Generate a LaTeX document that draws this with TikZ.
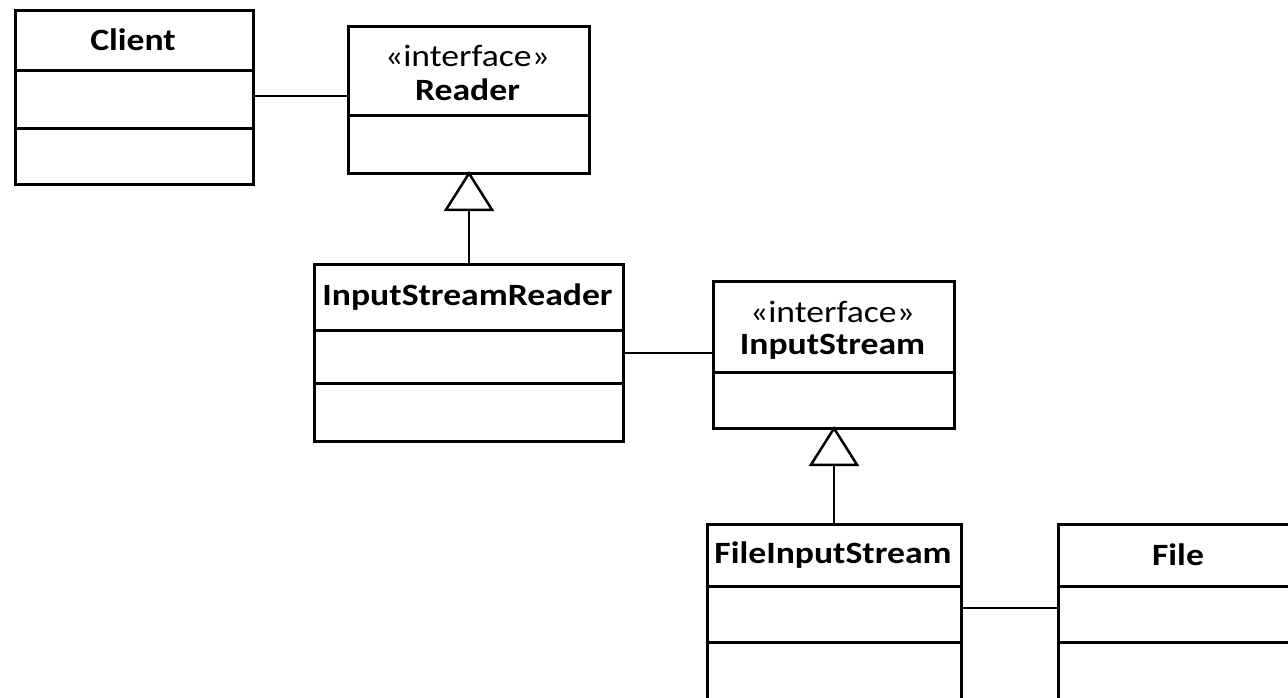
\documentclass[tikz,border=0pt]{standalone}
\usepackage{fontspec}
\setmainfont{Carlito}[FakeStretch=1.15]
\usetikzlibrary{arrows.meta}
\begin{document}
\begin{tikzpicture}[x=1pt,y=-1pt,
  classbox/.style={draw, line width=3pt, rectangle, inner sep=0pt, anchor=north west, fill=white},
  divider/.style={line width=3pt},
  title/.style={font=\fontsize{31}{34}\selectfont\bfseries, inner sep=0pt},
  stereo/.style={font=\fontsize{31}{34}\selectfont, inner sep=0pt},
  assoc/.style={line width=2pt},
  inherit/.style={line width=2pt, -{Triangle[open, length=40pt, width=50pt, line width=2.5pt]}}
]
\useasboundingbox (0,0) rectangle (1288,697);
\clip (0,0) rectangle (1288,697);

% Client
\node[classbox, minimum width=238pt, minimum height=174pt] (client) at (14,9) {};
\draw[divider] (14,70) -- (252,70) (14,128) -- (252,128);
\node[title] (clientT) at (133,40) {Client};

% Reader
\node[classbox, minimum width=241pt, minimum height=147pt] (reader) at (347,25) {};
\draw[divider] (347,115) -- (588,115);
\node[stereo] (readerS) at (467.5,56) {«interface»};
\node[title] (readerT) at (467.5,90) {Reader};

% InputStreamReader
\node[classbox, minimum width=309pt, minimum height=177pt] (isr) at (313,263) {};
\draw[divider] (313,330) -- (622,330) (313,383) -- (622,383);
\node[title] (isrT) at (467.5,297) {InputStreamReader};

% InputStream
\node[classbox, minimum width=241pt, minimum height=147pt] (is) at (712,280) {};
\draw[divider] (712,372) -- (953,372);
\node[stereo] (isS) at (832.5,312) {«interface»};
\node[title] (isT) at (832.5,347) {InputStream};

% FileInputStream
\node[classbox, minimum width=254pt, minimum height=178pt] (fis) at (706,523) {};
\draw[divider] (706,586) -- (960,586) (706,642) -- (960,642);
\node[title] (fisT) at (833,555) {FileInputStream};

% File
\node[classbox, minimum width=242pt, minimum height=178pt] (file) at (1057,523) {};
\draw[divider] (1057,586) -- (1299,586) (1057,642) -- (1299,642);
\node[title] (fileT) at (1178,555) {File};

% connectors
\draw[assoc] (client.east |- 0,96) -- (reader.west |- 0,96);
\draw[assoc] (isr.east |- 0,353) -- (is.west |- 0,353);
\draw[assoc] (fis.east |- 0,608) -- (file.west |- 0,608);
\draw[inherit] (isr.north -| reader.south) -- ([yshift=4pt]reader.south);
\draw[inherit] (fis.north -| is.south) -- ([yshift=4pt]is.south);
\end{tikzpicture}
\end{document}
